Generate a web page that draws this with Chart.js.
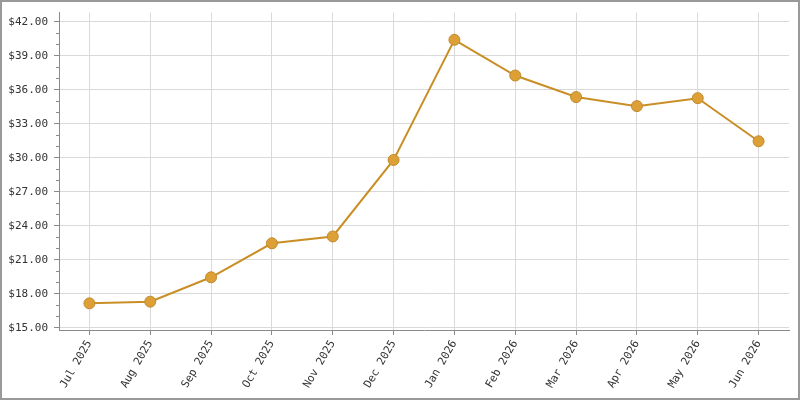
<!DOCTYPE html>
<html>
<head>
<meta charset="utf-8">
<script src="https://cdn.jsdelivr.net/npm/chart.js@4"></script>
<style>
  html, body { margin: 0; padding: 0; background: #fff; }
  #wrap { width: 800px; height: 400px; position: relative; }
</style>
</head>
<body>
<div id="wrap"><canvas id="grafico"></canvas></div>
<script>
// Datos del gráfico
const MONTHS = ['Jul 2025', 'Aug 2025', 'Sep 2025', 'Oct 2025', 'Nov 2025', 'Dec 2025',
    'Jan 2026', 'Feb 2026', 'Mar 2026', 'Apr 2026', 'May 2026', 'Jun 2026'];
const PRICES = [17.15, 17.3, 19.45, 22.45, 23.05, 29.8, 40.4, 37.25, 35.35, 34.55, 35.25, 31.45];
const Y_TICKS = [15, 18, 21, 24, 27, 30, 33, 36, 39, 42];
const Y_MINOR = [16, 17, 19, 20, 22, 23, 25, 26, 28, 29, 31, 32, 34, 35, 37, 38, 40, 41];

const FONT = { family: '"DejaVu Sans Mono", monospace', size: 11 };

// Plugin: borde exterior y marcas menores del eje Y
const extras = {
    id: 'extras',
    afterDraw(chart) {
        const ctx = chart.ctx;
        const y = chart.scales.y;
        ctx.save();
        ctx.strokeStyle = '#8a8a8a';
        ctx.lineWidth = 1;
        Y_MINOR.forEach(v => {
            const py = Math.round(y.getPixelForValue(v)) + 0.5;
            ctx.beginPath();
            ctx.moveTo(y.right - 3, py);
            ctx.lineTo(y.right, py);
            ctx.stroke();
        });
        ctx.strokeStyle = '#999';
        ctx.lineWidth = 2;
        ctx.strokeRect(1, 1, chart.width - 2, chart.height - 2);
        ctx.restore();
    }
};

new Chart(document.getElementById('grafico'), {
    type: 'line',
    data: {
        labels: MONTHS,
        datasets: [{
            data: PRICES,
            borderColor: '#C98F26',
            borderWidth: 2,
            backgroundColor: '#DCA037',
            pointBackgroundColor: '#DCA037',
            pointBorderColor: '#C08A2A',
            pointBorderWidth: 1,
            pointRadius: 5.5,
            tension: 0
        }]
    },
    options: {
        responsive: true,
        maintainAspectRatio: false,
        animation: false,
        layout: { padding: { top: 11, right: 11, left: 0, bottom: 0 } },
        plugins: {
            legend: { display: false },
            tooltip: { enabled: false }
        },
        scales: {
            x: {
                offset: true,
                afterFit: (scale) => { scale.height = 70; },
                grid: { color: '#d9d9d9', tickLength: 5, tickColor: '#8a8a8a', offset: false },
                border: { color: '#8a8a8a', width: 1 },
                ticks: { font: FONT, color: '#333', minRotation: 60, maxRotation: 60, padding: 3, autoSkip: false }
            },
            y: {
                min: 14.8,
                max: 42.8,
                afterFit: (scale) => { scale.width = 59; },
                afterBuildTicks: (scale) => { scale.ticks = Y_TICKS.map(v => ({ value: v })); },
                grid: { color: '#d9d9d9', tickLength: 5, tickColor: '#8a8a8a' },
                border: { color: '#8a8a8a', width: 1 },
                ticks: {
                    font: FONT,
                    color: '#333',
                    padding: 6,
                    callback: (value) => '$' + Number(value).toFixed(2)
                }
            }
        }
    },
    plugins: [extras]
});
</script>
</body>
</html>
